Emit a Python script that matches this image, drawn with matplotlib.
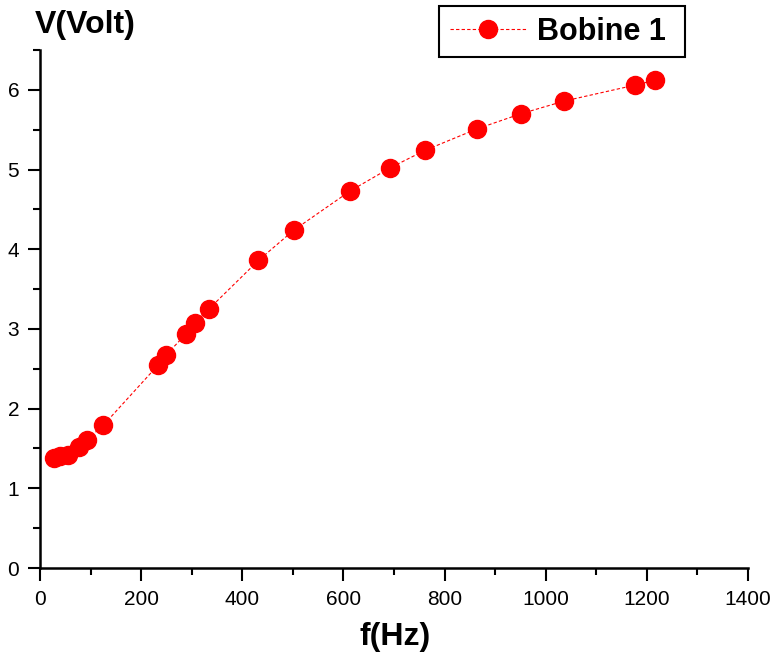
import matplotlib.pyplot as plt
from matplotlib.ticker import MultipleLocator

plt.rcParams['font.family'] = ['Liberation Sans', 'DejaVu Sans']

# frequency (Hz) and voltage (V)
freq = [28, 40, 56, 78, 93, 125, 234, 249, 289, 306, 334, 432,
        502, 613, 692, 761, 864, 951, 1037, 1177, 1216]
volt = [1.38, 1.40, 1.42, 1.52, 1.61, 1.79, 2.55, 2.67, 2.94, 3.07, 3.25, 3.86,
        4.24, 4.73, 5.02, 5.24, 5.51, 5.70, 5.86, 6.06, 6.12]

fig = plt.figure(figsize=(7.73, 6.61), dpi=100)
ax = fig.add_axes([40 / 773, 93 / 661, 708 / 773, 518 / 661])

line, = ax.plot(freq, volt, color='red', linestyle=(0, (3, 2)), linewidth=0.8,
                marker='o', markersize=13, markeredgecolor='red', label='Bobine 1 ')

ax.set_xlim(0, 1400)
ax.set_ylim(0, 6.5)
ax.xaxis.set_major_locator(MultipleLocator(200))
ax.xaxis.set_minor_locator(MultipleLocator(100))
ax.yaxis.set_major_locator(MultipleLocator(1))
ax.yaxis.set_minor_locator(MultipleLocator(0.5))
ax.tick_params(which='major', length=9, width=1.5, labelsize=15, direction='out')
ax.tick_params(axis='x', which='major', pad=7)
ax.tick_params(axis='y', which='major', pad=6)
ax.tick_params(which='minor', length=5, width=1.5, direction='out')
for s in ['top', 'right']:
    ax.spines[s].set_visible(False)
for s in ['left', 'bottom']:
    ax.spines[s].set_linewidth(1.8)

fig.text(85 / 773, 1 - 25 / 661, 'V(Volt)', fontsize=23, fontweight='bold',
         ha='center', va='center')
fig.text(395 / 773, 1 - 637 / 661, 'f(Hz)', fontsize=23, fontweight='bold',
         ha='center', va='center')

leg = fig.legend(handles=[line], loc='upper left',
                 bbox_to_anchor=(439 / 773, 1 - 6 / 661),
                 prop={'weight': 'bold', 'size': 22}, fancybox=False,
                 edgecolor='black', framealpha=1, handlelength=2.5,
                 handletextpad=0.35, borderpad=0.35, borderaxespad=0)
leg.get_frame().set_linewidth(1.5)

plt.savefig('out.png', dpi=100)
